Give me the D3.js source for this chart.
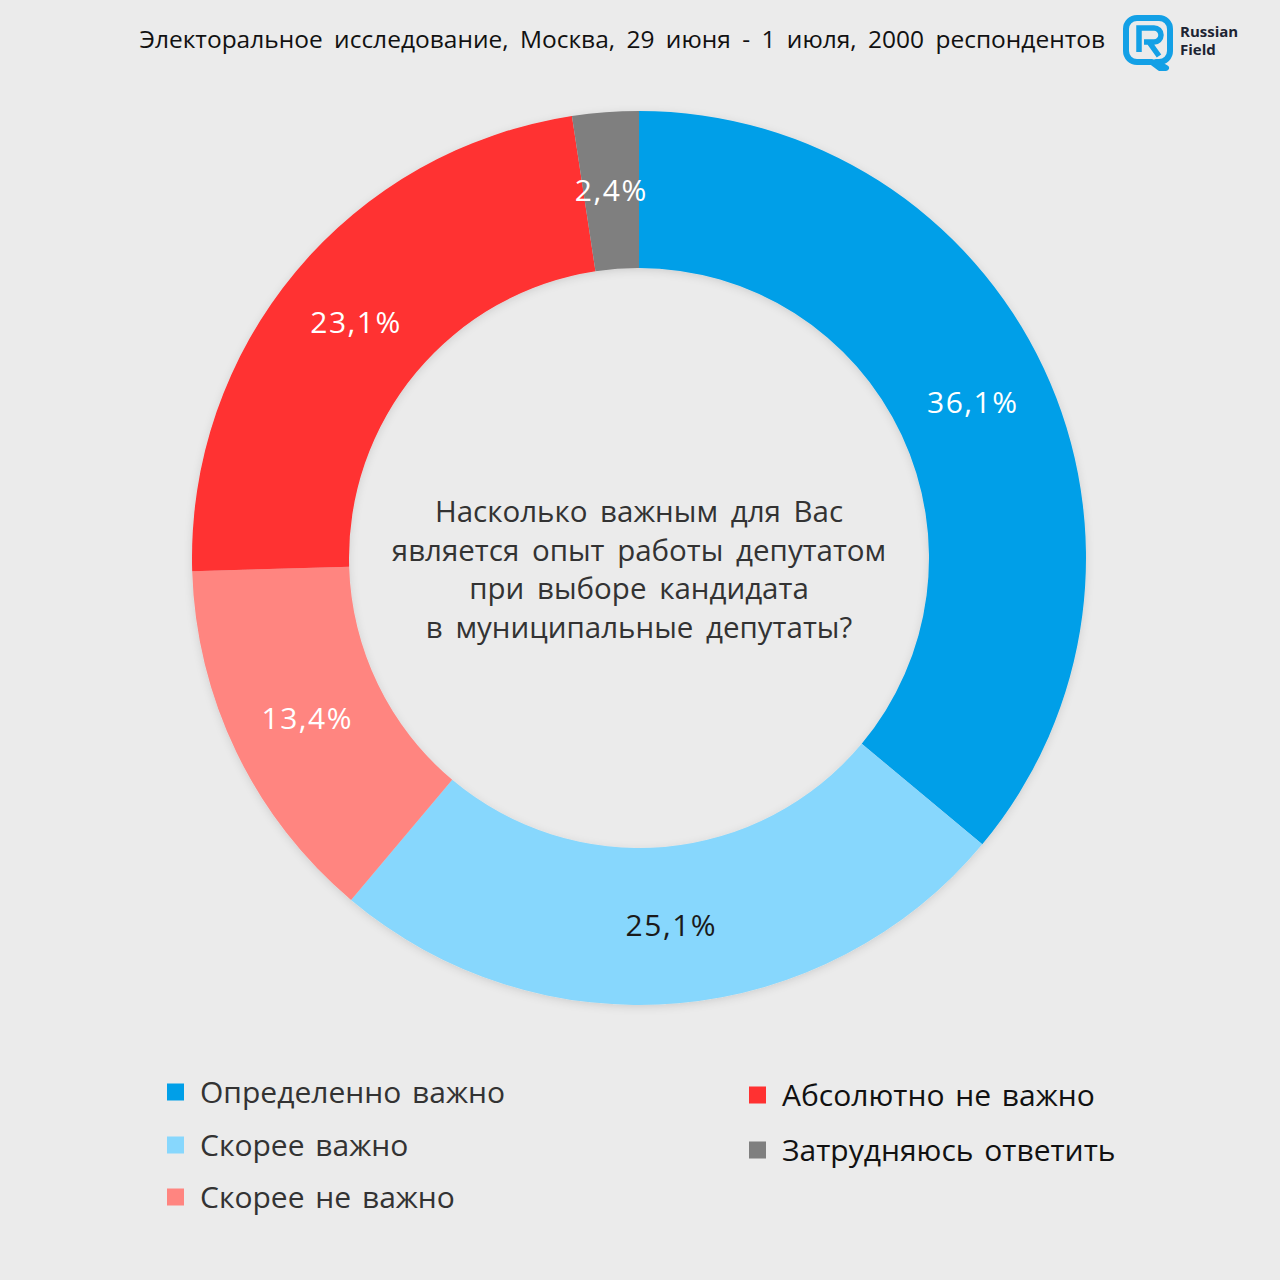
<!DOCTYPE html>
<html>
<head>
<meta charset="utf-8">
<script src="https://cdn.jsdelivr.net/npm/d3@7"></script>
<style>
  body { margin: 0; background: #ebebeb; }
  svg { display: block; font-family: "Open Sans", "DejaVu Sans", sans-serif; }
</style>
</head>
<body>
<div id="chart"></div>
<script>
// data
var categories = ["Определенно важно", "Скорее важно", "Скорее не важно", "Абсолютно не важно", "Затрудняюсь ответить"];
var values = [36.1, 25.1, 13.4, 23.1, 2.4];
var labels = ["36,1%", "25,1%", "13,4%", "23,1%", "2,4%"];
var colors = ["#009fe8", "#87d7fd", "#ff8580", "#ff3131", "#7f7f7f"];
var labelColors = ["#fff", "#1a1a1a", "#fff", "#fff", "#fff"];

var W = 1280, H = 1280;
var cx = 639, cy = 558, outerR = 447, innerR = 290;

var svg = d3.select("#chart").append("svg")
    .attr("width", W)
    .attr("height", H);

svg.append("rect").attr("width", W).attr("height", H).attr("fill", "#ebebeb");

// soft shadow under the ring
var defs = svg.append("defs");
var f = defs.append("filter").attr("id", "sh").attr("x", "-20%").attr("y", "-20%").attr("width", "140%").attr("height", "140%");
f.append("feDropShadow").attr("dx", 0).attr("dy", 2).attr("stdDeviation", 4).attr("flood-color", "#000").attr("flood-opacity", 0.12);

// title
svg.append("text")
    .attr("x", 1105).attr("y", 48)
    .attr("text-anchor", "end")
    .style("font-size", "24.5px")
    .style("word-spacing", "5px")
    .attr("fill", "#111")
    .text("Электоральное исследование, Москва, 29 июня - 1 июля, 2000 респондентов");

// logo
var logo = svg.append("g").attr("transform", "translate(1126,18)");
logo.append("path")
    .attr("d", "M11,0 H33 A11,11 0 0 1 44,11 V33 A11,11 0 0 1 33,44 H30 L40,50 L34,50 L26,44 H11 A11,11 0 0 1 0,33 V11 A11,11 0 0 1 11,0 Z")
    .attr("fill", "none").attr("stroke", "#13a0e6").attr("stroke-width", 6).attr("stroke-linejoin", "round");
logo.append("path")
    .attr("d", "M13,34 V10 H28 A7,7 0 0 1 28,24 H18 M23,24 L33,38")
    .attr("fill", "none").attr("stroke", "#13a0e6").attr("stroke-width", 5.5);
svg.append("text").attr("x", 1180).attr("y", 37)
    .style("font-size", "15px").style("font-weight", "bold").attr("fill", "#1d2433").text("Russian");
svg.append("text").attr("x", 1180).attr("y", 55)
    .style("font-size", "15px").style("font-weight", "bold").attr("fill", "#1d2433").text("Field");

// donut
var pie = d3.pie().sort(null).value(function(d) { return d; });
var arc = d3.arc().innerRadius(innerR).outerRadius(outerR);
var arcs = pie(values);

var g = svg.append("g").attr("transform", "translate(" + cx + "," + cy + ")");

g.append("g").attr("filter", "url(#sh)")
  .selectAll("path")
    .data(arcs)
  .enter().append("path")
    .attr("d", arc)
    .attr("fill", function(d, i) { return colors[i]; });

g.selectAll(".lbl")
    .data(arcs)
  .enter().append("text")
    .attr("class", "lbl")
    .attr("transform", function(d) { return "translate(" + arc.centroid(d) + ")"; })
    .attr("text-anchor", "middle")
    .attr("dy", "0.36em")
    .style("font-size", "30px")
    .style("letter-spacing", "1.5px")
    .attr("fill", function(d, i) { return labelColors[i]; })
    .text(function(d, i) { return labels[i]; });

// question in the middle
var question = ["Насколько важным для Вас", "является опыт работы депутатом", "при выборе кандидата", "в муниципальные депутаты?"];
g.selectAll(".q")
    .data(question)
  .enter().append("text")
    .attr("class", "q")
    .attr("x", 0)
    .attr("y", function(d, i) { return -36 + i * 38.5; })
    .attr("text-anchor", "middle")
    .style("font-size", "29.5px")
    .style("word-spacing", "5px")
    .attr("fill", "#333")
    .text(function(d) { return d; });

// legend
var legendPos = [[167, 1092], [167, 1145], [167, 1197], [749, 1095], [749, 1150]];
var legendText = ["#333", "#333", "#333", "#111", "#111"];
var leg = svg.selectAll(".leg")
    .data(categories)
  .enter().append("g")
    .attr("class", "leg")
    .attr("transform", function(d, i) { return "translate(" + legendPos[i][0] + "," + legendPos[i][1] + ")"; });
leg.append("rect")
    .attr("x", 0).attr("y", -8.5).attr("width", 17).attr("height", 17)
    .attr("fill", function(d, i) { return colors[i]; });
leg.append("text")
    .attr("x", 33).attr("y", 0).attr("dy", "0.36em")
    .style("font-size", "30px")
    .style("word-spacing", "3px")
    .attr("fill", function(d, i) { return legendText[i]; })
    .text(function(d) { return d; });
</script>
</body>
</html>
